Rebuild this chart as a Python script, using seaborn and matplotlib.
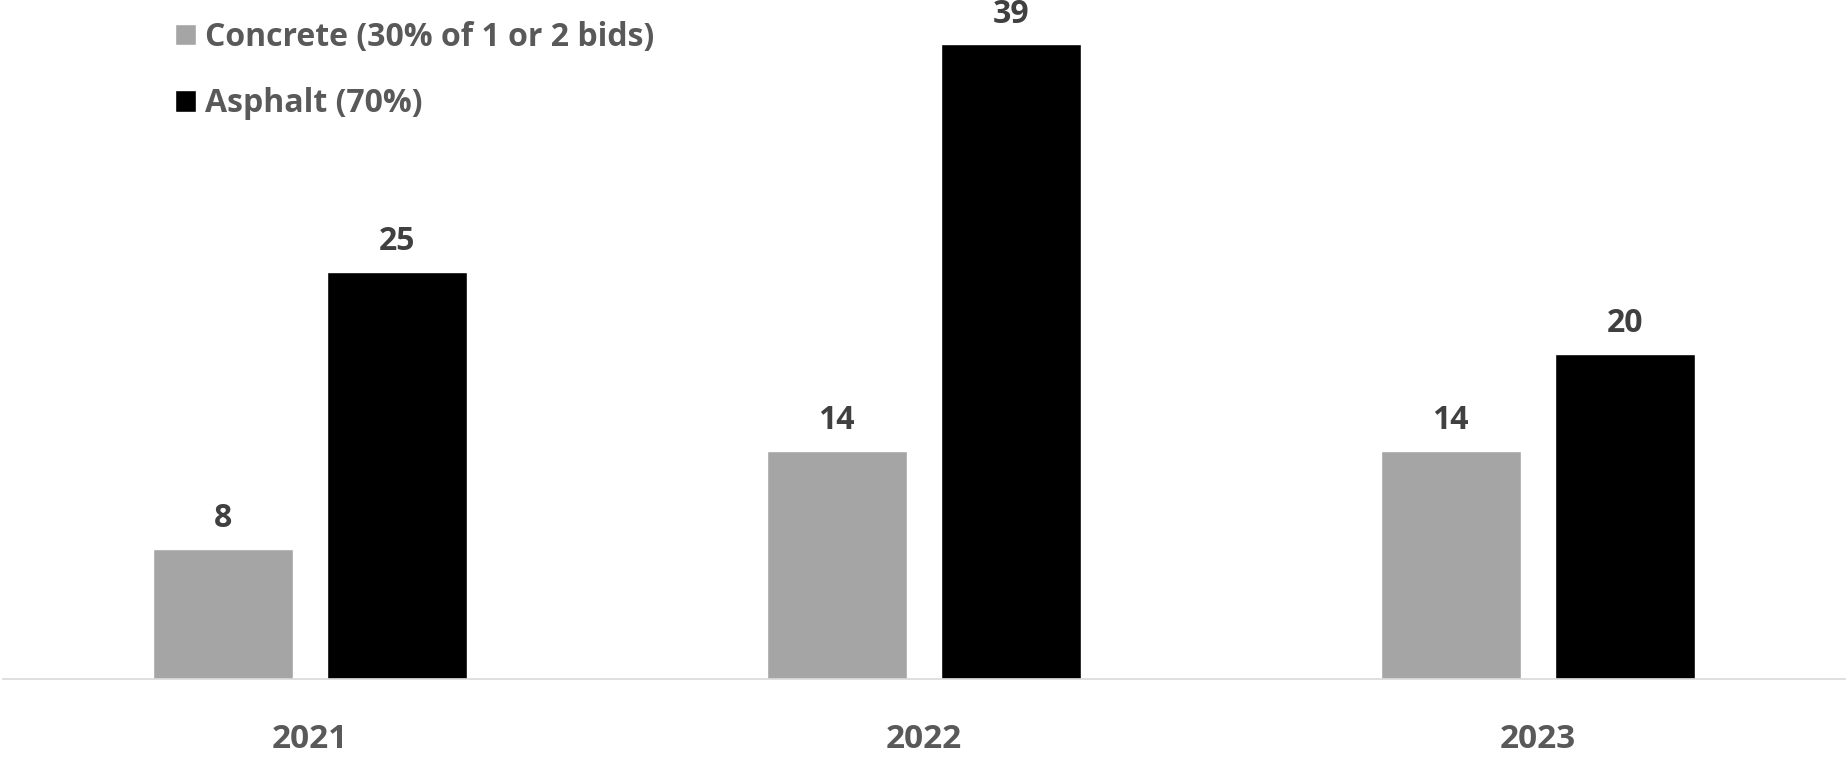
import pandas as pd
import matplotlib.pyplot as plt
import seaborn as sns

# data
years = ['2021', '2022', '2023']
concrete = [8, 14, 14]
asphalt = [25, 39, 20]
series_names = ['Concrete (30% of 1 or 2 bids)', 'Asphalt (70%)']

df = pd.DataFrame({
    'year': years * 2,
    'count': concrete + asphalt,
    'type': [series_names[0]] * 3 + [series_names[1]] * 3,
})

sns.set_theme(style='white')
plt.rcParams['font.family'] = ['Open Sans', 'DejaVu Sans']

fig = plt.figure(figsize=(18.47, 7.6), dpi=100)
ax = fig.add_axes([3 / 1847, 81 / 760, 1842 / 1847, 679 / 760])

sns.barplot(
    data=df, x='year', y='count', hue='type',
    palette=['#a5a5a5', '#000000'],
    width=0.57, gap=0.2, ax=ax, saturation=1,
)

for cont in ax.containers:
    ax.bar_label(cont, padding=10, fontsize=23, fontweight='bold', color='#404040')

ax.set_xlim(-0.5, 2.5)
ax.set_ylim(0, 41.73)
ax.set_xlabel('')
ax.set_ylabel('')
ax.set_yticks([])
ax.tick_params(axis='x', length=0, pad=32, labelsize=24, labelcolor='#595959')
for lab in ax.get_xticklabels():
    lab.set_fontweight('bold')

for side in ['top', 'left', 'right']:
    ax.spines[side].set_visible(False)
ax.spines['bottom'].set_color('#d9d9d9')
ax.spines['bottom'].set_linewidth(1.2)

leg = ax.legend(
    loc='upper left', bbox_to_anchor=(154 / 1847, 1.0), bbox_transform=fig.transFigure,
    frameon=False, fontsize=23, handlelength=0.65, handleheight=0.65,
    handletextpad=0.3, labelspacing=1.05, borderaxespad=0.25,
)
for t in leg.get_texts():
    t.set_color('#595959')
    t.set_fontweight('bold')

plt.savefig('out.png', dpi=100)
